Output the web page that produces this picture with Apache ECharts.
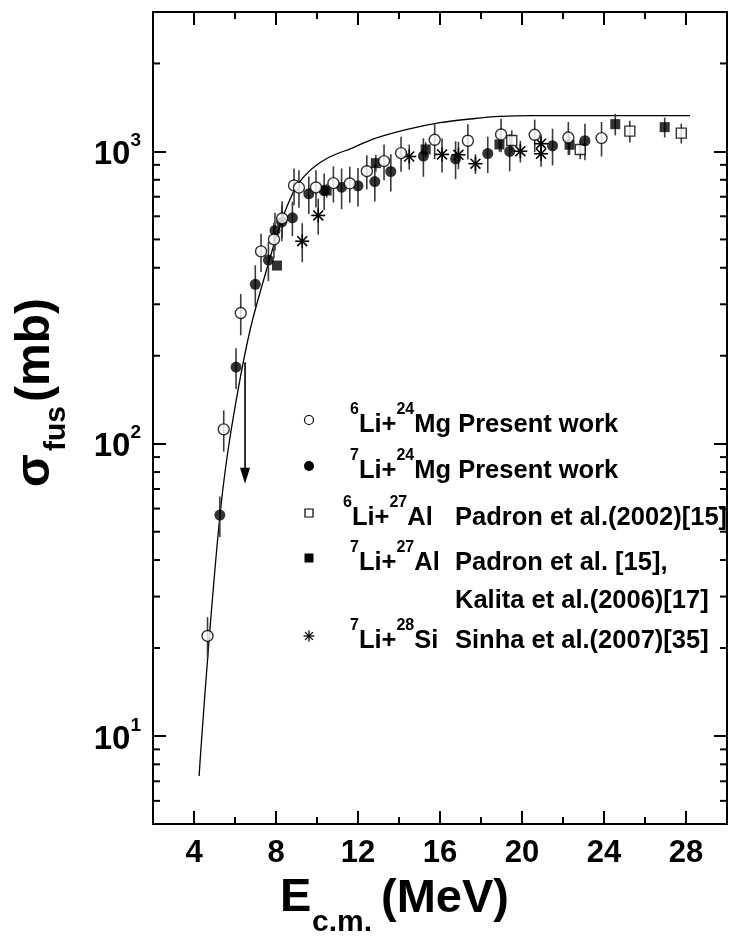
<!DOCTYPE html>
<html>
<head>
<meta charset="utf-8">
<script src="https://cdn.jsdelivr.net/npm/echarts@6/dist/echarts.min.js"></script>
<style>
  html, body { margin: 0; padding: 0; background: #fff; }
  #chart { width: 729px; height: 940px; }
</style>
</head>
<body>
<div id="chart"></div>
<script>
// Fusion cross sections sigma_fus (mb) versus E_c.m. (MeV)

// 6Li + 24Mg (present work)
const li6MgE     = [4.66, 5.45, 6.28, 7.27, 7.9, 8.3, 8.88, 9.12, 9.95, 10.8, 11.6, 12.43, 13.27, 14.1, 15.74, 17.36, 18.98, 20.62, 22.26, 23.88];
const li6MgSigma = [22, 112, 280, 455, 500, 590, 765, 752, 753, 779, 777, 856, 927, 987, 1096, 1088, 1143, 1140, 1116, 1111];
const li6MgErr   = [3.5, 18, 45, 68, 70, 85, 110, 110, 110, 110, 110, 115, 130, 135, 155, 150, 150, 145, 145, 150];

// 7Li + 24Mg (present work)
const li7MgE     = [5.26, 6.05, 6.99, 7.63, 7.95, 8.28, 8.8, 9.6, 10.35, 11.2, 12.0, 12.82, 13.6, 15.19, 16.76, 18.33, 19.4, 21.49, 23.07];
const li7MgSigma = [57, 183, 351, 425, 537, 573, 593, 716, 735, 755, 763, 789, 854, 964, 944, 984, 1000, 1046, 1088];
const li7MgErr   = [9, 29, 57, 65, 80, 80, 80, 105, 105, 120, 115, 115, 125, 145, 140, 140, 145, 150, 155];

// 6Li + 27Al, Padron et al. (2002)
const li6AlE     = [19.5, 22.84, 25.26, 27.77];
const li6AlSigma = [1090, 1016, 1174, 1155];
const li6AlErr   = [90, 75, 100, 90];

// 7Li + 27Al, Padron et al.; Kalita et al. (2006)
const li7AlE     = [8.05, 10.47, 12.87, 15.3, 18.9, 22.32, 24.55, 26.96];
const li7AlSigma = [407, 735, 912, 1016, 1057, 1054, 1240, 1211];
const li7AlErr   = [0, 40, 60, 60, 60, 80, 105, 95];

// 7Li + 28Si, Sinha et al. (2007)
const li7SiE     = [9.28, 10.06, 14.5, 16.1, 16.9, 17.73, 19.92, 20.93, 20.93];
const li7SiSigma = [493, 604, 961, 977, 974, 908, 1002, 1063, 982];
const li7SiErr   = [75, 85, 95, 130, 105, 70, 85, 80, 95];

// calculated fusion cross section curve
const theoryE     = [4.25, 4.34, 4.75, 5.29, 5.81, 6.73, 7.79, 8.2, 8.6, 9.0, 9.5, 10.0, 10.5, 11.1, 11.6, 12.7, 14.4, 16.0, 17.6, 18.9, 20.5, 28.2];
const theorySigma = [7.3, 9.1, 22, 59, 111, 244, 452, 560, 665, 760, 840, 900, 948, 990, 1018, 1100, 1189, 1254, 1294, 1318, 1327, 1327];

// upper-limit arrow
const arrowE = [6.49];
const arrowFrom = [190];
const arrowTo = [73];

// axes
const xMin = 2, xMax = 30, yMin = 5, yMax = 3000;
const xMajorTicks = [4, 8, 12, 16, 20, 24, 28];
const xMinorTicks = [6, 10, 14, 18, 22, 26];
const yMajorTicks = [10, 100, 1000];
const yTickBase = ['10', '10', '10'];
const yTickExp = ['1', '2', '3'];
const yMinorTicks = [6, 7, 8, 9, 20, 30, 40, 50, 60, 70, 80, 90, 200, 300, 400, 500, 600, 700, 800, 900, 2000];

const FONT = '"Liberation Sans", Arial, Helvetica, sans-serif';
const MAJOR_LEN = 13, MINOR_LEN = 7;

const chart = echarts.init(document.getElementById('chart'), null, { renderer: 'canvas' });

function pairs(xs, ys) { return xs.map((x, i) => [x, ys[i]]); }
function bars(xs, ys, es) { return xs.map((x, i) => [x, ys[i] - es[i], ys[i] + es[i]]); }

function errorBarSeries(xs, ys, es) {
  return {
    type: 'custom', coordinateSystem: 'cartesian2d', silent: true, z: 3, clip: false,
    data: bars(xs, ys, es),
    encode: { x: 0, y: [1, 2] },
    renderItem(params, api) {
      const lo = api.coord([api.value(0), api.value(1)]);
      const hi = api.coord([api.value(0), api.value(2)]);
      return { type: 'line', shape: { x1: lo[0], y1: lo[1], x2: hi[0], y2: hi[1] },
               style: { stroke: '#3a3a3a', lineWidth: 1.6 } };
    }
  };
}

function starPath(cx, cy, r, lw) {
  const d = r * Math.SQRT1_2;
  const st = { stroke: '#000', lineWidth: lw };
  return [
    { type: 'line', shape: { x1: cx - r, y1: cy, x2: cx + r, y2: cy }, style: st },
    { type: 'line', shape: { x1: cx, y1: cy - r, x2: cx, y2: cy + r }, style: st },
    { type: 'line', shape: { x1: cx - d, y1: cy - d, x2: cx + d, y2: cy + d }, style: st },
    { type: 'line', shape: { x1: cx - d, y1: cy + d, x2: cx + d, y2: cy - d }, style: st }
  ];
}

const axisLineStyle = { color: '#000', width: 2 };
const majorTick = { show: true, inside: true, length: MAJOR_LEN, lineStyle: { color: '#000', width: 2 } };

const richLegend = {
  n: { fontFamily: FONT, fontWeight: 'bold', fontSize: 25.5, lineHeight: 36, verticalAlign: 'bottom', color: '#000' },
  s: { fontFamily: FONT, fontWeight: 'bold', fontSize: 16, lineHeight: 17, verticalAlign: 'top', color: '#000' }
};
function legendText(x, y, text) {
  return { type: 'text', x: x, y: y, silent: true,
           style: { text: text, rich: richLegend, verticalAlign: 'middle', align: 'left' } };
}
// text placed by its alphabetic baseline
function baseText(x, baseline, text, fs) {
  return { type: 'text', x: x, y: baseline - 0.3465 * fs, silent: true,
           style: { text: text, fontFamily: FONT, fontWeight: 'bold', fontSize: fs, fill: '#000',
                    verticalAlign: 'middle', align: 'left' } };
}

const legendX = 309;
const graphic = [
  // legend symbols
  { type: 'circle', silent: true, shape: { cx: legendX, cy: 420, r: 4.5 }, style: { fill: '#fff', stroke: '#000', lineWidth: 1.2 } },
  { type: 'circle', silent: true, shape: { cx: legendX, cy: 466, r: 5 }, style: { fill: '#000' } },
  { type: 'rect', silent: true, shape: { x: legendX - 4, y: 513 - 4, width: 8, height: 8 }, style: { fill: '#fff', stroke: '#000', lineWidth: 1.2 } },
  { type: 'rect', silent: true, shape: { x: legendX - 4.5, y: 558 - 4.5, width: 9, height: 9 }, style: { fill: '#000' } },
  { type: 'group', silent: true, children: starPath(legendX, 636, 5.5, 1.3) },
  // legend labels
  legendText(350, 420, '{s|6}{n|Li+}{s|24}{n|Mg Present work}'),
  legendText(350, 466, '{s|7}{n|Li+}{s|24}{n|Mg Present work}'),
  legendText(343, 513, '{s|6}{n|Li+}{s|27}{n|Al}'),
  legendText(455, 513, '{n|Padron et al.(2002)[15]}'),
  legendText(350, 558, '{s|7}{n|Li+}{s|27}{n|Al}'),
  legendText(455, 558, '{n|Padron et al. [15],}'),
  legendText(455, 596, '{n|Kalita et al.(2006)[17]}'),
  legendText(350, 636, '{s|7}{n|Li+}{s|28}{n|Si}'),
  legendText(455, 636, '{n|Sinha et al.(2007)[35]}'),
  // x axis title
  baseText(280, 914, 'E', 47),
  baseText(312, 933, 'c.m.', 30),
  baseText(381, 915, '(MeV)', 47),
  // y axis title, rotated to read upwards
  { type: 'group', x: 52, y: 487, rotation: Math.PI / 2, silent: true, children: [
      baseText(0, 0, 'σ', 48),
      baseText(36, 15, 'fus', 30),
      baseText(85, 0, '(mb)', 48)
  ] }
];

const option = {
  animation: false,
  backgroundColor: '#fff',
  grid: { left: 153, right: 2, top: 12, bottom: 116, containLabel: false },
  xAxis: [
    { type: 'value', position: 'bottom', min: xMin, max: xMax,
      axisLine: { show: true, onZero: false, lineStyle: axisLineStyle },
      axisTick: Object.assign({ customValues: xMajorTicks }, majorTick),
      axisLabel: { customValues: xMajorTicks, margin: 14, color: '#000', fontFamily: FONT, fontWeight: 'bold', fontSize: 31 },
      splitLine: { show: false } },
    { type: 'value', position: 'top', min: xMin, max: xMax,
      axisLine: { show: true, onZero: false, lineStyle: axisLineStyle },
      axisTick: Object.assign({ customValues: xMajorTicks }, majorTick),
      axisLabel: { show: false },
      splitLine: { show: false } }
  ],
  yAxis: [
    { type: 'log', logBase: 10, position: 'left', min: yMin, max: yMax,
      axisLine: { show: true, onZero: false, lineStyle: axisLineStyle },
      axisTick: majorTick,
      axisLabel: {
        margin: 12, showMinLabel: false, showMaxLabel: false,
        formatter(v) {
          const i = yMajorTicks.findIndex(t => Math.abs(t - v) / t < 1e-6);
          return i < 0 ? '' : '{b|' + yTickBase[i] + '}{s|' + yTickExp[i] + '}';
        },
        rich: {
          b: { fontFamily: FONT, fontWeight: 'bold', fontSize: 33, lineHeight: 40, verticalAlign: 'bottom', color: '#000', padding: [4, 0, 0, 0] },
          s: { fontFamily: FONT, fontWeight: 'bold', fontSize: 19, lineHeight: 19, verticalAlign: 'top', color: '#000' }
        }
      },
      splitLine: { show: false }, minorTick: { show: false } },
    { type: 'log', logBase: 10, position: 'right', min: yMin, max: yMax,
      axisLine: { show: true, onZero: false, lineStyle: axisLineStyle },
      axisTick: majorTick,
      axisLabel: { show: false },
      splitLine: { show: false }, minorTick: { show: false } }
  ],
  graphic: graphic,
  series: [
    // calculated curve
    { type: 'line', name: 'calc', data: pairs(theoryE, theorySigma), smooth: 0.3, symbol: 'none',
      lineStyle: { color: '#000', width: 1.3 }, z: 2, silent: true },
    // upper-limit arrow
    { type: 'custom', coordinateSystem: 'cartesian2d', silent: true, z: 3, clip: false,
      data: arrowE.map((e, i) => [e, arrowFrom[i], arrowTo[i]]),
      encode: { x: 0, y: [1, 2] },
      renderItem(params, api) {
        const a = api.coord([api.value(0), api.value(1)]);
        const b = api.coord([api.value(0), api.value(2)]);
        const hw = 5, hh = 16;
        return { type: 'group', children: [
          { type: 'line', shape: { x1: a[0], y1: a[1], x2: b[0], y2: b[1] - hh + 2 }, style: { stroke: '#000', lineWidth: 1.6 } },
          { type: 'polygon', shape: { points: [[b[0] - hw, b[1] - hh], [b[0] + hw, b[1] - hh], [b[0], b[1]]] }, style: { fill: '#000' } }
        ] };
      } },
    // error bars
    errorBarSeries(li6MgE, li6MgSigma, li6MgErr),
    errorBarSeries(li7MgE, li7MgSigma, li7MgErr),
    errorBarSeries(li6AlE, li6AlSigma, li6AlErr),
    errorBarSeries(li7AlE, li7AlSigma, li7AlErr),
    errorBarSeries(li7SiE, li7SiSigma, li7SiErr),
    // data markers
    { type: 'custom', name: '7Li+28Si', coordinateSystem: 'cartesian2d', silent: true, z: 5, clip: false,
      data: pairs(li7SiE, li7SiSigma), encode: { x: 0, y: 1 },
      renderItem(params, api) {
        const p = api.coord([api.value(0), api.value(1)]);
        return { type: 'group', children: starPath(p[0], p[1], 7, 1.6) };
      } },
    { type: 'scatter', name: '7Li+27Al', data: pairs(li7AlE, li7AlSigma), symbol: 'rect', symbolSize: 10,
      itemStyle: { color: '#000' }, silent: true, z: 5 },
    { type: 'scatter', name: '6Li+27Al', data: pairs(li6AlE, li6AlSigma), symbol: 'rect', symbolSize: 10,
      itemStyle: { color: '#fff', borderColor: '#000', borderWidth: 1.4 }, silent: true, z: 5 },
    { type: 'scatter', name: '7Li+24Mg', data: pairs(li7MgE, li7MgSigma), symbol: 'circle', symbolSize: 11,
      itemStyle: { color: '#000' }, silent: true, z: 5 },
    { type: 'scatter', name: '6Li+24Mg', data: pairs(li6MgE, li6MgSigma), symbol: 'circle', symbolSize: 11,
      itemStyle: { color: '#fff', borderColor: '#000', borderWidth: 1.4 }, silent: true, z: 6 },
    // minor ticks on the log axes (left and right)
    { type: 'custom', coordinateSystem: 'cartesian2d', silent: true, z: 10, clip: false,
      data: yMinorTicks.map(v => [xMin, v]), encode: { x: 0, y: 1 },
      renderItem(params, api) {
        const v = api.value(1);
        const l = api.coord([xMin, v]);
        const r = api.coord([xMax, v]);
        const st = { stroke: '#000', lineWidth: 2 };
        return { type: 'group', children: [
          { type: 'line', shape: { x1: l[0], y1: l[1], x2: l[0] + MINOR_LEN, y2: l[1] }, style: st },
          { type: 'line', shape: { x1: r[0], y1: r[1], x2: r[0] - MINOR_LEN, y2: r[1] }, style: st }
        ] };
      } },
    // minor ticks on the energy axes (bottom and top)
    { type: 'custom', coordinateSystem: 'cartesian2d', silent: true, z: 10, clip: false,
      data: xMinorTicks.map(v => [v, yMin]), encode: { x: 0, y: 1 },
      renderItem(params, api) {
        const v = api.value(0);
        const b = api.coord([v, yMin]);
        const t = api.coord([v, yMax]);
        const st = { stroke: '#000', lineWidth: 2 };
        return { type: 'group', children: [
          { type: 'line', shape: { x1: b[0], y1: b[1], x2: b[0], y2: b[1] - MINOR_LEN }, style: st },
          { type: 'line', shape: { x1: t[0], y1: t[1], x2: t[0], y2: t[1] + MINOR_LEN }, style: st }
        ] };
      } }
  ]
};

chart.setOption(option);
</script>
</body>
</html>
